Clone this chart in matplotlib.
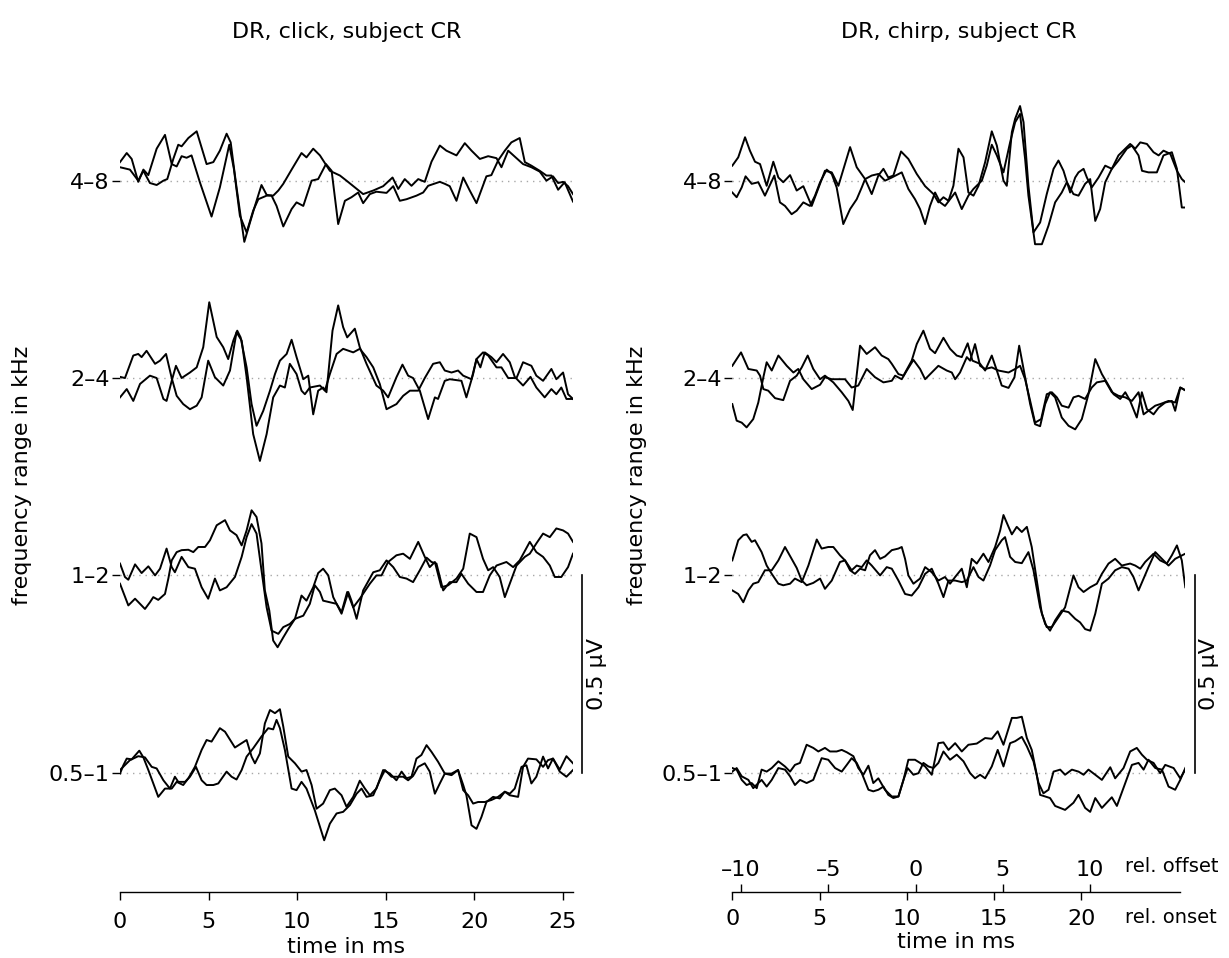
import matplotlib.pyplot as plt

# time in ms, amplitude in µV relative to the row baseline
click_48_a = [(0.00, 0.034), (0.56, 0.028), (1.03, 0.000), (1.32, 0.025), (1.69, -0.006), (2.07, -0.011),
              (2.45, 0.000), (2.67, 0.004), (3.01, 0.055), (3.29, 0.091), (3.48, 0.087), (3.86, 0.108),
              (4.33, 0.125), (4.89, 0.042), (5.27, 0.047), (5.64, 0.076), (6.02, 0.119), (6.25, 0.097),
              (6.58, -0.017), (7.02, -0.155), (7.34, -0.106), (7.62, -0.064), (7.99, -0.011), (8.28, -0.036),
              (8.65, -0.038), (8.94, -0.025), (9.22, -0.008), (9.69, 0.028), (10.25, 0.070), (10.53, 0.059),
              (10.91, 0.081), (11.29, 0.064), (11.85, 0.025), (12.42, 0.013), (12.79, 0.000), (13.26, -0.017),
              (13.73, -0.034), (14.30, -0.025), (14.86, -0.014), (15.39, 0.008), (15.71, -0.021), (16.08, 0.004),
              (16.46, -0.013), (16.84, 0.004), (17.21, -0.003), (17.59, 0.048), (18.06, 0.089), (18.43, 0.076),
              (19.00, 0.064), (19.47, 0.095), (19.85, 0.076), (20.32, 0.055), (20.79, 0.062), (21.26, 0.057),
              (21.54, 0.034), (21.92, 0.076), (22.29, 0.061), (22.76, 0.042), (23.23, 0.034), (23.70, 0.023),
              (24.08, 0.000), (24.45, 0.011), (24.74, -0.006), (25.02, -0.003), (25.30, -0.014), (25.58, -0.034)]
click_48_b = [(0.00, 0.047), (0.38, 0.070), (0.66, 0.055), (1.03, -0.003), (1.32, 0.028), (1.60, 0.014),
              (2.07, 0.081), (2.54, 0.116), (2.92, 0.042), (3.20, 0.036), (3.48, 0.062), (3.76, 0.058),
              (4.04, 0.064), (4.51, -0.004), (5.17, -0.091), (5.64, -0.017), (6.17, 0.091), (6.43, 0.030),
              (6.77, -0.089), (7.15, -0.131), (7.52, -0.076), (7.81, -0.047), (8.28, -0.038), (8.56, -0.038),
              (8.84, -0.064), (9.22, -0.116), (9.69, -0.072), (9.97, -0.055), (10.35, -0.064), (10.82, 0.000),
              (11.19, 0.004), (11.63, 0.042), (11.95, 0.025), (12.32, -0.110), (12.70, -0.051), (13.07, -0.042),
              (13.45, -0.030), (13.73, -0.057), (14.11, -0.034), (14.48, -0.028), (15.05, -0.031), (15.43, -0.014),
              (15.80, -0.051), (16.18, -0.047), (16.74, -0.038), (17.12, -0.030), (17.40, -0.013), (18.06, -0.003),
              (18.34, -0.008), (18.62, -0.014), (19.00, -0.051), (19.38, 0.008), (19.75, -0.025), (20.13, -0.057),
              (20.69, 0.011), (20.97, 0.014), (21.35, 0.051), (21.73, 0.076), (22.10, 0.097), (22.57, 0.108),
              (22.86, 0.047), (23.23, 0.038), (23.70, 0.025), (24.08, 0.013), (24.36, 0.013), (24.74, -0.023),
              (25.11, -0.004), (25.58, -0.053)]

click_24_a = [(0.00, 0.003), (0.28, 0.000), (0.75, 0.057), (1.03, 0.061), (1.22, 0.053), (1.50, 0.069),
              (1.98, 0.036), (2.26, 0.044), (2.60, 0.061), (2.92, 0.000), (3.20, -0.045), (3.57, -0.066),
              (3.95, -0.079), (4.33, -0.070), (4.61, -0.049), (4.98, 0.044), (5.36, 0.002), (5.83, -0.019),
              (6.21, 0.019), (6.58, 0.116), (6.87, 0.095), (7.15, 0.002), (7.52, -0.142), (7.90, -0.210),
              (8.28, -0.142), (8.65, -0.049), (9.03, -0.019), (9.31, -0.024), (9.59, 0.036), (9.97, 0.010),
              (10.25, -0.032), (10.44, -0.041), (10.72, -0.024), (11.29, -0.019), (11.57, -0.032), (11.85, 0.010),
              (12.23, 0.061), (12.60, 0.074), (13.17, 0.065), (13.54, 0.074), (13.92, 0.053), (14.30, 0.027),
              (14.67, -0.015), (15.05, -0.079), (15.61, -0.066), (15.99, -0.045), (16.37, -0.032), (16.84, -0.032),
              (17.21, 0.000), (17.68, 0.036), (18.06, 0.040), (18.34, 0.019), (18.72, 0.014), (19.09, 0.019),
              (19.38, 0.006), (19.85, -0.003), (20.13, 0.048), (20.50, 0.065), (20.79, 0.057), (21.26, 0.027),
              (21.54, 0.027), (21.92, 0.000), (22.39, 0.000), (22.76, 0.040), (23.23, 0.031), (23.51, 0.006),
              (23.89, -0.007), (24.36, 0.023), (24.64, -0.003), (25.02, 0.014), (25.30, -0.041), (25.58, -0.053)]
click_24_b = [(0.00, -0.049), (0.38, -0.028), (0.75, -0.058), (1.13, -0.015), (1.69, 0.006), (2.07, 0.000),
              (2.45, -0.053), (2.63, -0.058), (2.92, -0.007), (3.16, 0.031), (3.48, 0.000), (3.95, 0.014),
              (4.33, 0.027), (4.70, 0.078), (5.04, 0.192), (5.46, 0.104), (5.83, 0.078), (6.11, 0.048),
              (6.40, 0.095), (6.62, 0.120), (6.81, 0.103), (7.15, 0.027), (7.43, -0.066), (7.71, -0.121),
              (8.09, -0.083), (8.47, -0.032), (8.75, 0.010), (9.03, 0.044), (9.41, 0.061), (9.69, 0.097),
              (9.97, 0.053), (10.35, -0.003), (10.63, 0.006), (10.91, -0.092), (11.19, -0.032), (11.47, -0.024),
              (11.66, -0.036), (12.00, 0.120), (12.32, 0.184), (12.60, 0.129), (12.83, 0.103), (13.26, 0.125),
              (13.54, 0.078), (13.92, 0.036), (14.48, -0.019), (14.86, -0.032), (15.14, -0.049), (15.61, 0.002),
              (15.95, 0.034), (16.27, 0.006), (16.55, 0.000), (16.93, -0.032), (17.40, -0.104), (17.78, -0.049),
              (17.96, -0.053), (18.34, -0.007), (18.62, -0.003), (19.28, -0.007), (19.56, -0.049), (19.94, 0.010),
              (20.13, 0.048), (20.35, 0.027), (20.60, 0.065), (20.97, 0.053), (21.26, 0.040), (21.63, 0.061),
              (22.01, 0.040), (22.29, 0.003), (22.76, -0.019), (23.18, 0.003), (23.51, -0.024), (23.98, -0.049),
              (24.36, -0.028), (24.64, -0.041), (24.92, -0.024), (25.21, -0.053), (25.58, -0.053)]

click_12_a = [(0.00, 0.030), (0.28, -0.004), (0.47, -0.011), (0.85, 0.028), (1.22, 0.006), (1.60, 0.023),
              (1.98, 0.000), (2.26, 0.017), (2.63, 0.068), (2.92, 0.021), (3.10, 0.008), (3.48, 0.047),
              (3.86, 0.021), (4.23, 0.017), (4.61, -0.030), (4.98, -0.059), (5.36, -0.008), (5.64, -0.038),
              (6.02, -0.030), (6.49, -0.004), (6.87, 0.047), (7.15, 0.097), (7.43, 0.130), (7.71, 0.106),
              (7.99, 0.013), (8.28, -0.081), (8.56, -0.140), (8.94, -0.148), (9.22, -0.131), (9.59, -0.123),
              (9.88, -0.110), (10.25, -0.051), (10.53, -0.064), (10.91, -0.030), (11.19, 0.006), (11.47, 0.017),
              (11.76, 0.000), (12.04, -0.055), (12.51, -0.097), (12.89, -0.042), (13.07, -0.064), (13.36, -0.110),
              (13.73, -0.038), (14.30, 0.008), (14.67, 0.013), (15.05, 0.038), (15.43, 0.021), (15.80, -0.004),
              (16.18, -0.008), (16.55, -0.017), (16.93, 0.013), (17.31, 0.045), (17.59, 0.034), (17.87, 0.030),
              (18.25, -0.038), (18.62, -0.017), (19.00, -0.017), (19.28, 0.004), (19.66, -0.021), (20.13, -0.042),
              (20.50, -0.042), (20.88, 0.000), (21.26, 0.025), (21.82, 0.034), (22.20, 0.021), (22.57, 0.038),
              (23.14, 0.085), (23.51, 0.059), (23.89, 0.047), (24.27, 0.025), (24.55, -0.004), (24.92, -0.004),
              (25.30, 0.021), (25.58, 0.055)]
click_12_b = [(0.00, -0.021), (0.47, -0.076), (0.85, -0.059), (1.41, -0.085), (1.69, -0.068), (1.88, -0.055),
              (2.16, -0.062), (2.54, -0.047), (2.73, -0.008), (2.92, 0.038), (3.20, 0.059), (3.48, 0.064),
              (3.86, 0.065), (4.14, 0.059), (4.42, 0.072), (4.80, 0.072), (5.08, 0.089), (5.46, 0.127),
              (5.93, 0.140), (6.21, 0.114), (6.58, 0.102), (6.87, 0.076), (7.15, 0.114), (7.43, 0.165),
              (7.71, 0.148), (7.99, 0.081), (8.18, -0.038), (8.43, -0.089), (8.65, -0.165), (8.90, -0.182),
              (9.22, -0.157), (9.50, -0.136), (9.88, -0.110), (10.35, -0.102), (10.72, -0.072), (11.00, -0.025),
              (11.29, -0.042), (11.47, -0.064), (11.85, -0.068), (12.23, -0.072), (12.51, -0.093), (12.83, -0.042),
              (13.17, -0.081), (13.54, -0.059), (14.11, -0.021), (14.48, 0.000), (14.77, 0.000), (15.14, 0.034),
              (15.61, 0.051), (15.99, 0.055), (16.37, 0.042), (16.84, 0.085), (17.21, 0.047), (17.49, 0.021),
              (17.78, 0.034), (18.15, -0.030), (18.53, -0.025), (19.00, -0.008), (19.38, 0.017), (19.75, 0.106),
              (20.13, 0.097), (20.50, 0.042), (20.79, 0.013), (21.07, 0.021), (21.44, -0.004), (21.73, -0.055),
              (22.01, -0.021), (22.39, 0.025), (22.86, 0.047), (23.14, 0.055), (23.51, 0.081), (23.89, 0.106),
              (24.27, 0.097), (24.64, 0.119), (25.02, 0.114), (25.30, 0.106), (25.58, 0.085)]

click_05_a = [(0.00, -0.002), (0.19, 0.019), (0.38, 0.036), (0.66, 0.034), (1.09, 0.056), (1.32, 0.039),
              (1.60, 0.007), (1.88, -0.027), (2.16, -0.061), (2.54, -0.040), (2.92, -0.040), (3.20, -0.023),
              (3.57, -0.031), (3.86, -0.014), (4.23, 0.015), (4.61, 0.058), (4.89, 0.083), (5.17, 0.079),
              (5.64, 0.113), (5.93, 0.104), (6.49, 0.064), (6.87, 0.075), (7.15, 0.083), (7.43, 0.041),
              (7.62, 0.024), (7.90, 0.049), (8.18, 0.125), (8.47, 0.159), (8.75, 0.151), (9.03, 0.161),
              (9.22, 0.117), (9.50, 0.041), (9.88, 0.024), (10.25, 0.003), (10.53, 0.007), (10.82, -0.031),
              (11.10, -0.091), (11.47, -0.078), (11.85, -0.044), (12.13, -0.040), (12.51, -0.057), (12.79, -0.086),
              (13.17, -0.061), (13.54, -0.020), (13.83, -0.040), (14.11, -0.057), (14.48, -0.040), (14.86, 0.007),
              (15.24, -0.002), (15.61, -0.019), (15.90, 0.003), (16.18, -0.014), (16.46, -0.010), (16.74, 0.036),
              (17.02, 0.045), (17.31, 0.070), (17.59, 0.053), (17.96, 0.028), (18.34, -0.002), (18.72, -0.002),
              (19.09, 0.007), (19.38, -0.044), (19.66, -0.057), (19.94, -0.078), (20.22, -0.074), (20.60, -0.074),
              (20.97, -0.069), (21.35, -0.061), (21.73, -0.048), (22.01, -0.057), (22.48, -0.061), (22.76, 0.015),
              (23.04, 0.036), (23.51, 0.034), (23.89, 0.015), (24.17, 0.032), (24.45, 0.036), (24.83, 0.008),
              (25.21, 0.042), (25.58, 0.024)]
click_05_b = [(0.00, 0.007), (0.56, 0.032), (1.03, 0.042), (1.41, 0.039), (1.79, 0.015), (2.07, 0.011),
              (2.45, -0.019), (2.82, -0.040), (3.10, -0.010), (3.29, -0.023), (3.67, -0.023), (3.95, -0.010),
              (4.29, 0.015), (4.61, -0.019), (4.89, -0.031), (5.27, -0.031), (5.55, -0.027), (6.02, 0.003),
              (6.30, -0.010), (6.58, -0.017), (6.87, 0.007), (7.15, 0.041), (7.52, 0.062), (7.99, 0.092),
              (8.37, 0.113), (8.65, 0.110), (8.84, 0.134), (9.03, 0.113), (9.31, 0.058), (9.69, -0.040),
              (9.97, -0.044), (10.25, -0.023), (10.53, -0.040), (11.00, -0.095), (11.53, -0.171), (11.85, -0.129),
              (12.23, -0.103), (12.60, -0.099), (12.98, -0.082), (13.36, -0.053), (13.64, -0.040), (13.92, -0.061),
              (14.30, -0.057), (14.67, -0.019), (14.96, 0.007), (15.33, -0.010), (15.99, -0.010), (16.27, -0.019),
              (16.55, -0.008), (16.84, 0.015), (17.21, 0.024), (17.49, 0.003), (17.78, -0.053), (18.06, -0.027),
              (18.34, -0.002), (18.72, -0.006), (19.09, 0.007), (19.38, -0.031), (19.56, -0.057), (19.85, -0.133),
              (20.13, -0.142), (20.41, -0.112), (20.69, -0.074), (21.07, -0.061), (21.44, -0.065), (21.73, -0.048),
              (22.01, -0.053), (22.29, -0.040), (22.67, 0.015), (22.95, 0.019), (23.23, -0.027), (23.51, -0.010),
              (23.89, 0.041), (24.17, 0.011), (24.45, 0.036), (24.83, 0.003), (25.21, -0.010), (25.58, 0.007)]

chirp_48_a = [(0.00, 0.038), (0.34, 0.059), (0.73, 0.110), (1.01, 0.076), (1.30, 0.048), (1.59, 0.042),
              (1.97, -0.013), (2.35, 0.048), (2.64, 0.008), (2.92, -0.004), (3.31, 0.014), (3.69, -0.025),
              (4.07, -0.014), (4.55, -0.064), (4.84, -0.030), (5.31, 0.025), (5.70, 0.021), (6.08, -0.013),
              (6.75, 0.085), (7.13, 0.034), (7.61, 0.004), (7.99, -0.034), (8.37, 0.013), (8.66, 0.030),
              (8.94, 0.008), (9.23, 0.013), (9.67, 0.074), (10.09, 0.055), (10.57, 0.017), (11.05, -0.014),
              (11.53, -0.034), (11.81, -0.055), (12.10, -0.042), (12.39, -0.051), (12.67, -0.013), (12.96, 0.081),
              (13.25, 0.059), (13.53, -0.030), (13.82, -0.038), (14.11, -0.013), (14.49, 0.047), (14.87, 0.125),
              (15.16, 0.089), (15.54, 0.000), (15.73, -0.013), (16.02, 0.123), (16.21, 0.157), (16.49, 0.189),
              (16.69, 0.148), (16.97, -0.013), (17.26, -0.131), (17.64, -0.106), (18.02, -0.034), (18.41, 0.030),
              (18.69, 0.051), (18.98, 0.025), (19.36, -0.030), (19.65, 0.008), (19.84, 0.021), (20.13, 0.030),
              (20.32, 0.008), (20.60, -0.017), (20.99, 0.008), (21.37, 0.038), (21.75, 0.030), (22.13, 0.064),
              (22.52, 0.081), (22.80, 0.093), (23.09, 0.081), (23.38, 0.097), (23.76, 0.093), (24.14, 0.072),
              (24.43, 0.064), (24.71, 0.076), (25.10, 0.068), (25.48, 0.025), (25.76, 0.004), (25.96, -0.004)]
chirp_48_b = [(0.00, -0.030), (0.25, -0.042), (0.54, -0.017), (0.76, 0.011), (1.11, -0.008), (1.49, -0.004),
              (1.87, -0.038), (2.41, 0.013), (2.73, -0.055), (3.02, -0.064), (3.40, -0.085), (3.69, -0.076),
              (4.07, -0.055), (4.45, -0.064), (4.74, -0.038), (5.03, -0.004), (5.41, 0.028), (5.70, 0.017),
              (5.98, -0.017), (6.36, -0.110), (6.75, -0.072), (7.13, -0.047), (7.42, -0.017), (7.61, 0.004),
              (7.99, 0.013), (8.37, 0.017), (8.75, 0.000), (9.14, 0.008), (9.71, 0.021), (10.09, -0.021),
              (10.47, -0.047), (10.76, -0.072), (11.05, -0.110), (11.33, -0.064), (11.62, -0.030), (11.91, -0.055),
              (12.19, -0.064), (12.77, -0.030), (13.15, -0.072), (13.53, -0.038), (13.82, -0.021), (14.30, 0.000),
              (14.58, 0.038), (14.87, 0.091), (15.16, 0.064), (15.54, 0.021), (15.92, 0.097), (16.21, 0.148),
              (16.49, 0.169), (16.78, 0.055), (16.97, -0.038), (17.35, -0.161), (17.74, -0.161), (18.12, -0.114),
              (18.50, -0.055), (18.88, -0.030), (19.17, -0.004), (19.55, -0.034), (19.84, -0.038), (20.22, -0.008),
              (20.51, 0.004), (20.80, -0.102), (21.08, -0.072), (21.37, -0.004), (21.75, 0.030), (22.13, 0.051),
              (22.61, 0.081), (22.90, 0.089), (23.28, 0.064), (23.48, 0.025), (23.85, 0.021), (24.33, 0.021),
              (24.71, 0.064), (25.19, 0.072), (25.48, 0.030), (25.76, -0.068), (25.96, -0.068)]

chirp_24_a = [(0.00, 0.031), (0.50, 0.065), (0.92, 0.023), (1.40, 0.019), (1.59, 0.006), (1.78, -0.028),
              (2.06, -0.032), (2.45, -0.051), (2.92, -0.056), (3.31, -0.007), (3.69, 0.006), (3.98, 0.027),
              (4.32, 0.057), (4.64, 0.023), (5.03, -0.003), (5.31, 0.006), (5.79, -0.011), (6.27, -0.036),
              (6.65, -0.058), (6.90, -0.081), (7.32, 0.082), (7.70, 0.061), (8.18, 0.078), (8.56, 0.057),
              (8.94, 0.048), (9.14, 0.036), (9.52, 0.010), (9.81, 0.006), (10.28, 0.044), (10.57, 0.086),
              (10.95, 0.120), (11.33, 0.074), (11.62, 0.063), (12.10, 0.102), (12.48, 0.074), (12.86, 0.057),
              (13.15, 0.053), (13.49, 0.088), (13.76, 0.044), (14.20, 0.036), (14.49, 0.019), (14.87, 0.057),
              (15.16, 0.019), (15.44, -0.019), (15.83, -0.025), (16.17, 0.002), (16.44, 0.082), (16.78, 0.002),
              (17.07, -0.066), (17.35, -0.117), (17.64, -0.122), (17.93, -0.066), (18.21, -0.036), (18.50, -0.049),
              (18.88, -0.100), (19.27, -0.121), (19.65, -0.130), (20.03, -0.104), (20.41, -0.041), (20.80, 0.048),
              (21.18, 0.010), (21.46, -0.011), (21.85, -0.041), (22.23, -0.053), (22.52, -0.036), (22.80, -0.058),
              (23.18, -0.100), (23.47, -0.036), (23.76, -0.079), (24.14, -0.092), (24.43, -0.075), (24.81, -0.062),
              (25.19, -0.058), (25.38, -0.083), (25.67, -0.024), (25.96, -0.031)]
chirp_24_b = [(0.00, -0.066), (0.25, -0.108), (0.54, -0.113), (0.82, -0.125), (1.20, -0.104), (1.49, -0.062),
              (1.78, 0.002), (1.97, 0.040), (2.26, 0.019), (2.64, 0.057), (3.12, 0.031), (3.50, 0.014),
              (3.78, 0.023), (4.07, -0.003), (4.55, -0.028), (5.03, -0.017), (5.31, 0.002), (5.70, -0.003),
              (6.17, -0.003), (6.46, -0.003), (6.84, -0.024), (7.22, -0.019), (7.70, 0.023), (8.18, 0.002),
              (8.66, -0.011), (9.14, -0.007), (9.33, 0.006), (9.71, -0.003), (10.00, 0.019), (10.38, 0.046),
              (10.76, 0.023), (11.05, -0.003), (11.43, 0.014), (11.81, 0.031), (12.29, 0.019), (12.58, 0.014),
              (12.77, -0.003), (13.05, 0.014), (13.44, 0.053), (13.63, 0.044), (13.91, 0.086), (14.20, 0.031),
              (14.49, 0.023), (14.87, 0.027), (15.25, 0.019), (15.83, 0.014), (16.21, 0.023), (16.49, 0.031),
              (16.78, -0.003), (17.07, -0.058), (17.35, -0.113), (17.70, -0.104), (18.02, -0.041), (18.31, -0.036),
              (18.60, -0.049), (18.88, -0.070), (19.27, -0.075), (19.55, -0.049), (19.84, -0.045), (20.22, -0.053),
              (20.60, -0.024), (20.89, -0.011), (21.37, -0.007), (21.75, -0.036), (22.13, -0.045), (22.52, -0.049),
              (22.90, -0.058), (23.28, -0.036), (23.57, -0.092), (23.85, -0.083), (24.24, -0.070), (24.52, -0.066),
              (25.00, -0.058), (25.38, -0.062), (25.67, -0.024), (25.96, -0.031)]

chirp_12_a = [(0.00, 0.038), (0.34, 0.089), (0.63, 0.102), (0.82, 0.104), (1.11, 0.085), (1.30, 0.089),
              (1.68, 0.059), (1.97, 0.025), (2.26, 0.004), (2.64, -0.021), (2.92, -0.025), (3.31, -0.021),
              (3.59, -0.008), (3.98, -0.017), (4.36, 0.025), (4.84, 0.091), (5.12, 0.068), (5.50, 0.072),
              (5.79, 0.072), (6.17, 0.051), (6.46, 0.038), (6.75, 0.013), (7.03, 0.004), (7.32, 0.017),
              (7.61, 0.013), (7.89, 0.051), (8.18, 0.064), (8.47, 0.042), (8.75, 0.048), (9.14, 0.064),
              (9.52, 0.068), (9.71, 0.072), (9.90, 0.042), (10.09, 0.000), (10.38, -0.021), (10.76, -0.008),
              (11.05, 0.021), (11.43, 0.008), (11.81, -0.013), (12.19, -0.004), (12.48, -0.021), (12.77, -0.004),
              (13.15, 0.017), (13.44, -0.030), (13.72, 0.042), (14.01, 0.030), (14.39, 0.055), (14.68, 0.034),
              (15.06, 0.072), (15.35, 0.114), (15.54, 0.153), (15.83, 0.123), (16.02, 0.104), (16.30, 0.123),
              (16.59, 0.110), (16.88, 0.123), (17.16, 0.072), (17.45, -0.013), (17.74, -0.097), (18.02, -0.131),
              (18.31, -0.131), (18.69, -0.106), (19.07, -0.081), (19.55, 0.000), (19.84, -0.030), (20.13, -0.042),
              (20.51, -0.030), (20.89, -0.021), (21.18, 0.004), (21.56, 0.030), (21.94, 0.042), (22.32, 0.025),
              (22.80, 0.030), (23.09, 0.025), (23.38, 0.017), (23.66, 0.034), (24.14, 0.055), (24.52, 0.038),
              (24.90, 0.030), (25.19, 0.051), (25.48, 0.076), (25.76, 0.038), (25.96, -0.030)]
chirp_12_b = [(0.00, -0.038), (0.34, -0.047), (0.63, -0.068), (0.92, -0.038), (1.20, -0.021), (1.49, -0.017),
              (1.87, 0.013), (2.26, 0.013), (2.64, 0.038), (3.02, 0.072), (3.40, 0.042), (3.69, 0.019),
              (3.98, -0.013), (4.26, -0.025), (4.64, -0.019), (5.03, -0.008), (5.31, -0.034), (5.70, -0.013),
              (6.17, 0.034), (6.46, 0.038), (6.84, 0.013), (7.13, 0.025), (7.42, 0.021), (7.70, 0.038),
              (7.99, 0.025), (8.47, 0.000), (8.85, 0.021), (9.14, 0.017), (9.52, -0.013), (9.90, -0.047),
              (10.28, -0.051), (10.67, -0.030), (11.05, 0.004), (11.43, 0.017), (11.81, -0.021), (12.10, -0.055),
              (12.39, -0.013), (12.77, -0.013), (13.15, -0.017), (13.44, -0.013), (13.82, 0.021), (14.11, -0.004),
              (14.39, -0.013), (14.77, 0.025), (15.06, 0.064), (15.44, 0.089), (15.63, 0.097), (15.92, 0.047),
              (16.21, 0.034), (16.59, 0.031), (16.97, 0.059), (17.26, 0.013), (17.64, -0.081), (17.93, -0.123),
              (18.21, -0.140), (18.50, -0.114), (18.88, -0.089), (19.27, -0.093), (19.65, -0.110), (19.93, -0.119),
              (20.22, -0.136), (20.51, -0.140), (20.80, -0.097), (21.18, -0.021), (21.56, -0.008), (21.94, 0.013),
              (22.32, 0.021), (22.71, 0.017), (22.99, -0.004), (23.28, -0.038), (23.57, -0.008), (23.85, 0.021),
              (24.24, 0.059), (24.62, 0.042), (25.00, 0.025), (25.38, 0.042), (25.96, 0.055)]

chirp_05_a = [(0.00, 0.012), (0.25, 0.008), (0.54, -0.018), (0.82, -0.031), (1.11, -0.026), (1.40, -0.039),
              (1.68, 0.008), (1.97, 0.003), (2.26, 0.012), (2.64, 0.029), (3.02, 0.016), (3.31, 0.003),
              (3.59, 0.020), (3.88, 0.025), (4.26, 0.071), (4.64, 0.063), (4.93, 0.054), (5.31, 0.063),
              (5.60, 0.054), (5.98, 0.054), (6.27, 0.058), (6.56, 0.052), (6.94, 0.042), (7.22, 0.012),
              (7.51, -0.005), (7.80, 0.018), (8.08, -0.026), (8.37, -0.014), (8.75, -0.043), (9.14, -0.060),
              (9.52, -0.060), (9.81, -0.018), (10.09, 0.033), (10.47, 0.033), (10.76, 0.025), (11.05, 0.016),
              (11.43, -0.005), (11.81, 0.075), (12.10, 0.077), (12.39, 0.058), (12.77, 0.075), (13.15, 0.054),
              (13.53, 0.071), (14.01, 0.074), (14.49, 0.088), (14.87, 0.086), (15.21, 0.105), (15.54, 0.071),
              (16.02, 0.139), (16.30, 0.139), (16.59, 0.142), (16.88, 0.088), (17.16, 0.058), (17.45, -0.005),
              (17.64, -0.056), (17.93, -0.060), (18.21, -0.064), (18.50, -0.084), (19.07, -0.094), (19.55, -0.076),
              (19.84, -0.056), (20.22, -0.089), (20.51, -0.099), (20.80, -0.064), (21.18, -0.089), (21.75, -0.062),
              (22.04, -0.084), (22.52, -0.026), (22.90, 0.020), (23.28, 0.025), (23.57, 0.008), (23.85, 0.033),
              (24.24, 0.012), (24.62, 0.008), (25.00, -0.035), (25.38, -0.043), (25.67, -0.018), (25.96, 0.012)]
chirp_05_b = [(0.00, 0.003), (0.25, 0.012), (0.54, -0.009), (0.92, -0.018), (1.20, -0.039), (1.49, -0.026),
              (1.68, -0.018), (1.97, -0.035), (2.26, -0.018), (2.64, 0.012), (3.02, 0.008), (3.31, -0.009),
              (3.59, -0.031), (3.88, -0.018), (4.26, -0.026), (4.64, -0.018), (5.12, 0.037), (5.50, 0.033),
              (5.89, 0.012), (6.27, 0.003), (6.56, 0.020), (6.84, 0.037), (7.13, 0.025), (7.42, -0.001),
              (7.80, -0.043), (8.08, -0.047), (8.37, -0.043), (8.66, -0.035), (8.94, -0.056), (9.23, -0.064),
              (9.52, -0.060), (9.81, -0.018), (10.05, 0.012), (10.38, -0.005), (10.67, -0.001), (10.95, 0.025),
              (11.24, 0.016), (11.53, 0.012), (11.81, 0.025), (12.10, 0.054), (12.48, 0.033), (12.86, 0.046),
              (13.25, 0.029), (13.63, -0.001), (13.91, -0.014), (14.20, -0.005), (14.49, -0.014), (14.87, 0.016),
              (15.21, 0.058), (15.54, 0.016), (15.92, 0.075), (16.21, 0.080), (16.59, 0.091), (16.88, 0.067),
              (17.26, 0.029), (17.55, -0.026), (17.83, -0.052), (18.12, -0.043), (18.41, 0.003), (18.79, 0.008),
              (19.07, -0.005), (19.46, 0.008), (19.84, 0.003), (20.13, -0.005), (20.41, 0.008), (20.80, -0.005),
              (21.18, -0.018), (21.66, 0.014), (21.94, -0.014), (22.42, 0.012), (22.80, 0.054), (23.18, 0.063),
              (23.47, 0.046), (23.76, 0.033), (24.14, 0.025), (24.52, -0.001), (24.81, 0.020), (25.29, 0.012),
              (25.67, -0.014), (25.96, 0.008)]

bands = ['0.5–1', '1–2', '2–4', '4–8']
row_step = 0.5          # µV between rows, also the scale bar
click_rows = [[click_05_a, click_05_b], [click_12_a, click_12_b],
              [click_24_a, click_24_b], [click_48_a, click_48_b]]
chirp_rows = [[chirp_05_a, chirp_05_b], [chirp_12_a, chirp_12_b],
              [chirp_24_a, chirp_24_b], [chirp_48_a, chirp_48_b]]
click_ticks = [0, 5, 10, 15, 20, 25]
onset_ticks = [0, 5, 10, 15, 20]
offset_ticks = [-10, -5, 0, 5, 10]
chirp_len = 10.5        # ms, offset = onset - chirp_len

plt.rcParams['font.family'] = ['DejaVu Sans']
plt.rcParams['font.size'] = 16

W, H = 1229, 958
fig = plt.figure(figsize=(W / 100, H / 100), dpi=100)


def panel(left_px, t_max, axis_end, title, rows, ticks, bar_x, text_x, xpad):
    ax = fig.add_axes([left_px / W, 66 / H, 453 / W, 797 / H])
    ax.set_xlim(0, t_max)
    ax.set_ylim(-0.302, 1.717)
    for k, pair in enumerate(rows):
        base = k * row_step
        ax.axhline(base, color='#a8a8a8', lw=1, ls=(0, (1, 3.5)))
        for trace in pair:
            t, v = zip(*trace)
            ax.plot(t, [base + x for x in v], color='black', lw=1.4,
                    solid_joinstyle='round')
    for side in ['left', 'top', 'right']:
        ax.spines[side].set_visible(False)
    ax.spines['bottom'].set_bounds(0, axis_end)
    ax.spines['bottom'].set_linewidth(1)
    ax.set_yticks([k * row_step for k in range(len(bands))], bands)
    ax.tick_params(axis='y', length=5.8, width=1, pad=1.5)
    ax.set_xticks(ticks)
    ax.tick_params(axis='x', length=5.5, width=1, pad=xpad)

    # scale bar
    ax.plot([bar_x, bar_x], [0, row_step], color='black', lw=1.2, clip_on=False)
    ax.text(text_x, row_step / 2, '0.5 µV', rotation=90, ha='center',
            va='center')

    ax.text(0.5, 1.079, title, transform=ax.transAxes, ha='center',
            va='center')
    return ax


ax1 = panel(120, 25.58, 25.58, 'DR, click, subject CR', click_rows, click_ticks,
            26.09, 26.92, 9.0)
ax1.text(25.58 / 2, -0.0766, 'time in ms', transform=ax1.get_xaxis_transform(),
         ha='center', va='baseline')

ax2 = panel(732.3, 25.96, 25.67, 'DR, chirp, subject CR', chirp_rows, onset_ticks,
            26.49, 27.33, 7.0)
ax2.text(25.67 / 2, -0.0703, 'time in ms', transform=ax2.get_xaxis_transform(),
         ha='center', va='baseline')

off = ax2.twiny()
off.set_xlim(-chirp_len, 25.96 - chirp_len)
off.spines['top'].set_position(('axes', 0))
for s in off.spines.values():
    s.set_visible(False)
off.set_xticks(offset_ticks, [str(x).replace('-', '–') for x in offset_ticks])
off.tick_params(axis='x', length=5.5, width=1, pad=3.4)

trans = ax2.get_xaxis_transform()
ax2.text(22.52, 0.0326, 'rel. offset', transform=trans, ha='left', va='center',
         fontsize=14)
ax2.text(22.52, -0.0314, 'rel. onset', transform=trans, ha='left', va='center',
         fontsize=14)

fig.text(22 / W, 1 - 475 / H, 'frequency range in kHz', rotation=90,
         ha='center', va='center')
fig.text(637 / W, 1 - 475 / H, 'frequency range in kHz', rotation=90,
         ha='center', va='center')

fig.savefig('out.png', dpi=100)
